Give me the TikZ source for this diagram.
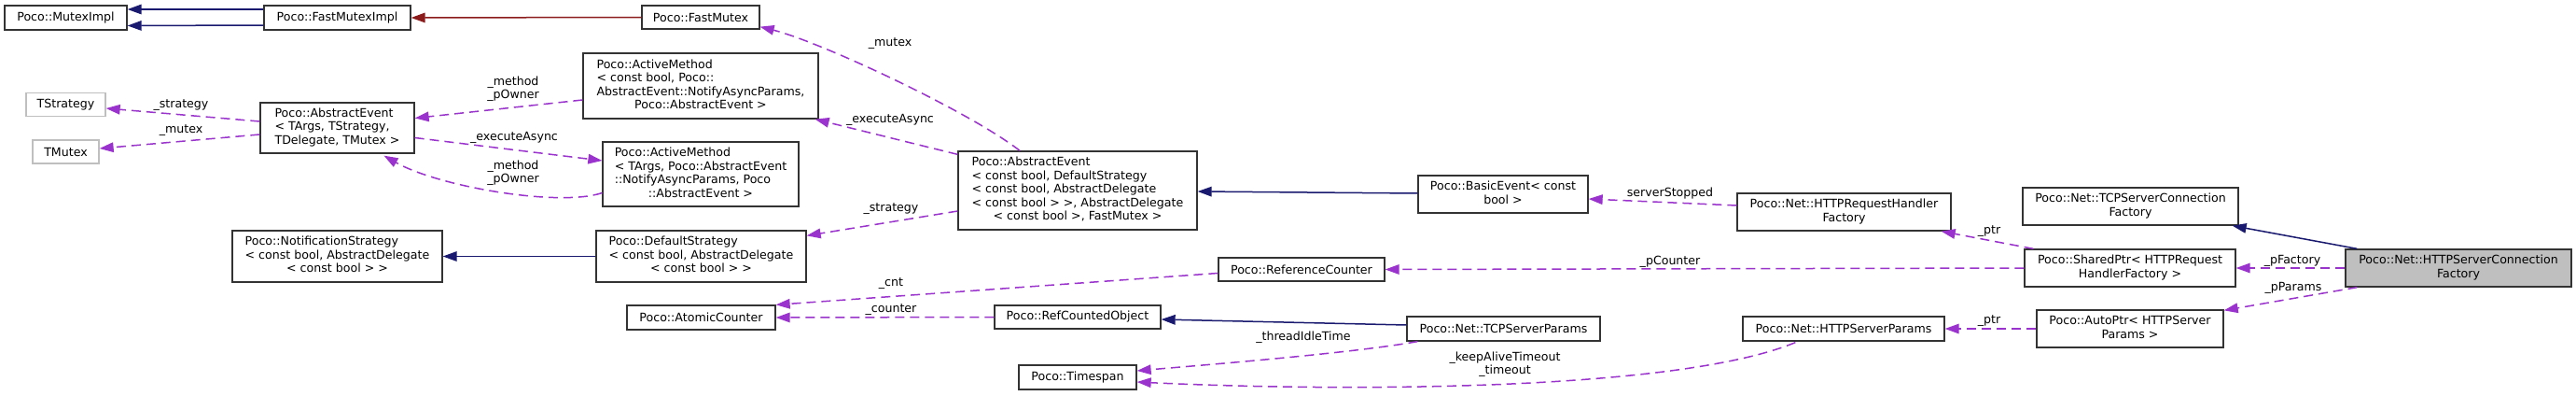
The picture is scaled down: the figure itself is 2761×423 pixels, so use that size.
\documentclass[tikz,border=0pt]{standalone}
\usepackage{fontspec}
\setmainfont{DejaVu Sans}
\usetikzlibrary{arrows.meta,calc}
\definecolor{mnb}{HTML}{191970}
\definecolor{fbfour}{HTML}{8B1A1A}
\definecolor{dorch}{HTML}{9A32CD}
\definecolor{hlgray}{HTML}{BFBFBF}
\newcommand\dxlines[2]{\begin{tabular}{@{}l@{}}#1\\\multicolumn{1}{@{}c@{}}{#2}\end{tabular}}
\begin{document}
\begin{tikzpicture}[x=1pt,y=-1pt,
 font=\fontsize{12.6}{14.5}\selectfont,
 cls/.style={draw=black!80, line width=1.3pt, rectangle, inner sep=0pt, fill=white},
 ext/.style={cls, draw=hlgray},
 cur/.style={cls, fill=hlgray},
 tip/.style={-{Triangle[length=15pt,width=10.5pt]}},
 inh/.style={draw=mnb, line width=1.5pt, tip},
 priv/.style={draw=fbfour, line width=1.5pt, tip},
 dep/.style={draw=dorch, line width=1.5pt, dash pattern=on 10pt off 6pt, tip},
 lbl/.style={inner sep=0pt, align=center}]
\fill[white] (0,0) rectangle (2761,423);
\useasboundingbox (0,0) rectangle (2761,423);

% nodes
\node[cls, minimum width=131pt, minimum height=26pt] (mi) at (70.5,19) {Poco::MutexImpl};
\node[cls, minimum width=157pt, minimum height=26pt] (fmi) at (361.5,19) {Poco::FastMutexImpl};
\node[cls, minimum width=126pt, minimum height=25pt] (fm) at (751,18.5) {Poco::FastMutex};
\node[ext, minimum width=85pt, minimum height=25pt] (ts) at (70.5,112) {TStrategy};
\node[ext, minimum width=71pt, minimum height=25pt] (tm) at (70.5,162.5) {TMutex};
\node[cls, minimum width=165pt, minimum height=54pt] (ae1) at (361.5,137)
  {\dxlines{Poco::AbstractEvent\\< TArgs, TStrategy,}{TDelegate, TMutex >}};
\node[cls, minimum width=252pt, minimum height=70pt] (am1) at (751,92)
  {\dxlines{Poco::ActiveMethod\\< const bool, Poco::\\AbstractEvent::NotifyAsyncParams,}{Poco::AbstractEvent >}};
\node[cls, minimum width=210pt, minimum height=69pt] (am2) at (751,186.5)
  {\dxlines{Poco::ActiveMethod\\< TArgs, Poco::AbstractEvent\\::NotifyAsyncParams, Poco}{::AbstractEvent >}};
\node[cls, minimum width=256pt, minimum height=84pt] (ae2) at (1155,204)
  {\dxlines{Poco::AbstractEvent\\< const bool, DefaultStrategy\\< const bool, AbstractDelegate\\< const bool > >, AbstractDelegate}{< const bool >, FastMutex >}};
\node[cls, minimum width=225pt, minimum height=55pt] (ns) at (361.5,274.5)
  {\dxlines{Poco::NotificationStrategy\\< const bool, AbstractDelegate}{< const bool > >}};
\node[cls, minimum width=225pt, minimum height=55pt] (ds) at (751.5,274.5)
  {\dxlines{Poco::DefaultStrategy\\< const bool, AbstractDelegate}{< const bool > >}};
\node[cls, minimum width=159pt, minimum height=26pt] (ac) at (751.5,340) {Poco::AtomicCounter};
\node[cls, minimum width=178pt, minimum height=25pt] (rco) at (1155,339.5) {Poco::RefCountedObject};
\node[cls, minimum width=126pt, minimum height=26pt] (tsp) at (1155,404) {Poco::Timespan};
\node[cls, minimum width=182pt, minimum height=40pt] (be) at (1611,208)
  {\dxlines{Poco::BasicEvent< const}{bool >}};
\node[cls, minimum width=178pt, minimum height=25pt] (rc) at (1395,288.5) {Poco::ReferenceCounter};
\node[cls, minimum width=207pt, minimum height=26pt] (tcp) at (1611.5,352) {Poco::Net::TCPServerParams};
\node[cls, minimum width=229pt, minimum height=40pt] (hrf) at (1976.5,227)
  {\dxlines{Poco::Net::HTTPRequestHandler}{Factory}};
\node[cls, minimum width=216pt, minimum height=26pt] (hsp) at (1976,352) {Poco::Net::HTTPServerParams};
\node[cls, minimum width=231pt, minimum height=40pt] (tcf) at (2283.5,221)
  {\dxlines{Poco::Net::TCPServerConnection}{Factory}};
\node[cls, minimum width=226pt, minimum height=40pt] (sp) at (2283,287)
  {\dxlines{Poco::SharedPtr< HTTPRequest}{HandlerFactory >}};
\node[cur, minimum width=242pt, minimum height=40pt] (hscf) at (2635,287)
  {\dxlines{Poco::Net::HTTPServerConnection}{Factory}};
\node[cls, minimum width=200pt, minimum height=40pt] (ap) at (2283,352)
  {\dxlines{Poco::AutoPtr< HTTPServer}{Params >}};

% connectors
\draw[inh] ($(fmi.west)+(0,-9)$) -- ($(mi.east)+(0,-9)$);
\draw[inh] ($(fmi.west)+(0,8)$) -- ($(mi.east)+(0,8.5)$);
\draw[priv] (fm.west) -- (fmi.east);
\draw[dep] ($(ae1.west)+(0,-7)$) -- ($(ts.east)+(0,4)$);
\draw[dep] ($(ae1.west)+(0,7)$) -- ($(tm.east)+(0,-3.5)$);
\draw[dep] ($(am1.west)+(0,15)$) -- ($(ae1.east)+(0,-10.5)$);
\draw[dep] ($(ae1.east)+(0,10.5)$) -- ($(am2.west)+(0,-14.5)$);
\draw[dep] ($(am2.west)+(0,20)$) .. controls (600,222) and (470,200) .. ($(ae1.south)+(50,2)$);
\draw[dep] ($(ae2.north)+(-62,0)$) .. controls (1040,120) and (880,45) .. ($(fm.south east)+(0,-3)$);
\draw[dep] ($(ae2.north west)+(0,4)$) -- ($(am1.south east)+(-4,0)$);
\draw[dep] ($(ae2.west)+(0,22)$) -- ($(ds.north east)+(0,6)$);
\draw[inh] ($(be.west)+(0,-1)$) -- ($(ae2.east)+(0,1)$);
\draw[inh] (ds.west) -- (ns.east);
\draw[dep] ($(rc.west)+(0,4)$) -- (ac.north east);
\draw[dep] (rco.west) -- (ac.east);
\draw[inh] ($(tcp.west)+(0,-4)$) -- ($(rco.east)+(0,2.5)$);
\draw[dep] ($(tcp.south west)+(12,0)$) .. controls (1450,378) and (1300,390) .. ($(tsp.east)+(0,-7)$);
\draw[dep] ($(hsp.south west)+(57,1)$) .. controls (1800,418) and (1450,420) .. ($(tsp.east)+(0,5)$);
\draw[dep] ($(hrf.west)+(0,-7)$) -- ($(be.east)+(0,5)$);
\draw[dep] (sp.west) -- (rc.east);
\draw[dep] ($(sp.north west)+(10,0)$) -- ($(hrf.south east)+(-11,0)$);
\draw[dep] (ap.west) -- (hsp.east);
\draw[inh] ($(hscf.north west)+(13,0)$) -- ($(tcf.south east)+(-7,0)$);
\draw[dep] (hscf.west) -- (sp.east);
\draw[dep] ($(hscf.south west)+(13,0)$) -- ($(ap.north east)+(0,1)$);

% labels
\node[lbl] (l1) at (194,113) {\_strategy};
\node[lbl] (l2) at (194,140) {\_mutex};
\node[lbl] (l3) at (550,95) {\_method\\\_pOwner};
\node[lbl] (l4) at (551,147) {\_executeAsync};
\node[lbl] (l5) at (550,185) {\_method\\\_pOwner};
\node[lbl] (l6) at (954,47) {\_mutex};
\node[lbl] (l7) at (954,128) {\_executeAsync};
\node[lbl] (l8) at (955,224) {\_strategy};
\node[lbl] (l9) at (955,304) {\_cnt};
\node[lbl] (l10) at (955,332) {\_counter};
\node[lbl] (l11) at (1397,361) {\_threadIdleTime};
\node[lbl] (l12) at (1613,390) {\_keepAliveTimeout\\\_timeout};
\node[lbl] (l13) at (1790,207) {serverStopped};
\node[lbl] (l14) at (1790,280) {\_pCounter};
\node[lbl] (l15) at (2132,248) {\_ptr};
\node[lbl] (l16) at (2132,344) {\_ptr};
\node[lbl] (l17) at (2457,279) {\_pFactory};
\node[lbl] (l18) at (2458,308) {\_pParams};
\end{tikzpicture}
\end{document}
